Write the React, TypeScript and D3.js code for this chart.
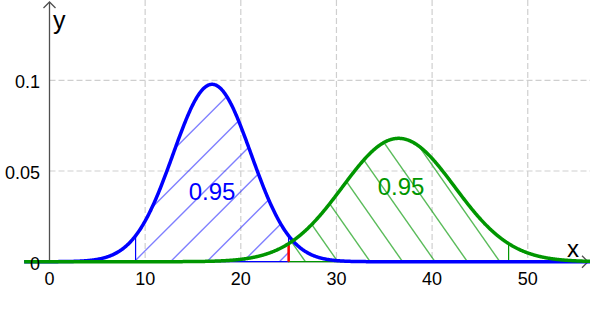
import React from "react";
import * as d3 from "d3";

// ---- data ----
const X_TICKS = [0, 10, 20, 30, 40, 50];
const Y_TICKS = [0.05, 0.1];
const Y_TICK_LABELS = ["0.05", "0.1"];
const DIST_NAMES = ["H0", "H1"];
const DIST_MEANS = [17, 36.5];
const DIST_SDS = [4.08, 5.867];
const AREA_FROM = [9, 25];
const AREA_TO = [25, 48];
const AREA_LABELS = ["0.95", "0.95"];
const AREA_LABEL_X = [17.0, 36.75];
const AREA_LABEL_Y = [0.034, 0.0367];
const CRITICAL_VALUE = 25;
const CURVE_DOMAIN = [-2.65, 57];

const W = 590;
const H = 310;
const COLORS = ["#0000ff", "#009600"];
const HATCH_COLORS = ["rgba(0,0,255,0.5)", "rgba(0,150,0,0.65)"];
const FONT = "'Liberation Sans', Arial, Helvetica, sans-serif";

const pdf = (m: number, s: number) => (x: number) =>
  Math.exp(-0.5 * ((x - m) / s) ** 2) / (s * Math.sqrt(2 * Math.PI));

export default function App() {
  const x0px = 49.5;
  const pxPerUnit = 9.565;
  const xs = d3
    .scaleLinear()
    .domain([(0 - x0px) / pxPerUnit, (W - x0px) / pxPerUnit])
    .range([0, W]);
  const ys = d3.scaleLinear().domain([0, 0.1]).range([261.7, 80.3]);
  const base = ys(0);

  const fns = DIST_MEANS.map((m, i) => pdf(m, DIST_SDS[i]));
  const samples = d3.range(CURVE_DOMAIN[0], CURVE_DOMAIN[1], 0.05);

  const curvePaths = fns.map((f) =>
    d3
      .line<number>()
      .x((d) => xs(d))
      .y((d) => ys(f(d)))(samples) as string
  );

  const areaPaths = fns.map((f, i) => {
    const a = AREA_FROM[i];
    const b = AREA_TO[i];
    const pts = d3.range(a, b, 0.05).concat([b]);
    return d3
      .area<number>()
      .x((d) => xs(d))
      .y0(base)
      .y1((d) => ys(f(d)))(pts) as string;
  });

  // hatch line families (pixel-space pattern)
  const hatch = (i: number) => {
    const lines: [number, number, number, number][] = [];
    const L = 300;
    if (i === 0) {
      const sp = 36.3;
      for (let k = -12; k <= 12; k++) {
        const c = 170.5 + k * sp;
        lines.push([c, base, c + L, base - L]);
      }
    } else {
      const sp = 32.4;
      const t = Math.tan((55 * Math.PI) / 180);
      for (let k = -12; k <= 12; k++) {
        const c = 435 + k * sp;
        lines.push([c, base, c - L / t, base - L]);
      }
    }
    return lines;
  };

  const gridColor = "#cfcfcf";
  const axisColor = "#505050";

  return (
    <svg
      width={W}
      height={H}
      style={{ position: "absolute", left: 0, top: 0, background: "#fff" }}
      fontFamily={FONT}
    >
      <defs>
        {areaPaths.map((p, i) => (
          <clipPath id={`clip${i}`} key={i}>
            <path d={p} />
          </clipPath>
        ))}
      </defs>
      <rect width={W} height={H} fill="#fff" />
      {X_TICKS.filter((t) => t !== 0).map((t) => (
        <line
          key={"gx" + t}
          x1={xs(t)}
          x2={xs(t)}
          y1={0}
          y2={base}
          stroke={gridColor}
          strokeWidth={1.2}
          strokeDasharray="6,3"
        />
      ))}
      {Y_TICKS.map((t) => (
        <line
          key={"gy" + t}
          x1={xs(0)}
          x2={W}
          y1={ys(t)}
          y2={ys(t)}
          stroke={gridColor}
          strokeWidth={1.2}
          strokeDasharray="6,3"
        />
      ))}
      <line x1={xs(0)} x2={xs(0)} y1={2} y2={base} stroke={axisColor} strokeWidth={1.3} />
      <path
        d={`M${xs(0) - 6},${8} L${xs(0)},${2} L${xs(0) + 6},${8}`}
        fill="none"
        stroke={axisColor}
        strokeWidth={1.3}
      />
      <line x1={xs(CURVE_DOMAIN[0])} x2={588} y1={base} y2={base} stroke={axisColor} strokeWidth={1.3} />
      <path
        d={`M${582},${base - 6} L${588},${base} L${582},${base + 6}`}
        fill="none"
        stroke={axisColor}
        strokeWidth={1.3}
      />
      {areaPaths.map((p, i) => (
        <g key={"area" + i}>
          <g clipPath={`url(#clip${i})`}>
            {hatch(i).map((l, j) => (
              <line
                key={j}
                x1={l[0]}
                y1={l[1]}
                x2={l[2]}
                y2={l[3]}
                stroke={HATCH_COLORS[i]}
                strokeWidth={1.4}
              />
            ))}
          </g>
          <path d={p} fill="none" stroke={COLORS[i]} strokeWidth={1.2} />
        </g>
      ))}
      <line
        x1={xs(CRITICAL_VALUE)}
        x2={xs(CRITICAL_VALUE)}
        y1={base}
        y2={ys(fns[1](CRITICAL_VALUE))}
        stroke="#ff0000"
        strokeWidth={2.5}
      />
      {curvePaths.map((p, i) => (
        <path
          key={DIST_NAMES[i]}
          d={p}
          fill="none"
          stroke={COLORS[i]}
          strokeWidth={3.5}
          strokeLinejoin="round"
        />
      ))}
      {AREA_LABELS.map((t, i) => (
        <text
          key={"al" + i}
          x={xs(AREA_LABEL_X[i])}
          y={ys(AREA_LABEL_Y[i])}
          fill={COLORS[i]}
          fontSize={24}
          textAnchor="middle"
        >
          {t}
        </text>
      ))}
      {X_TICKS.map((t) => (
        <text key={"tx" + t} x={xs(t)} y={285} fontSize={18} textAnchor="middle" fill="#000">
          {String(t)}
        </text>
      ))}
      {Y_TICKS.map((t, i) => (
        <text key={"ty" + t} x={40} y={ys(t) + 8} fontSize={18} textAnchor="end" fill="#000">
          {Y_TICK_LABELS[i]}
        </text>
      ))}
      <text x={40} y={base + 8} fontSize={18} textAnchor="end" fill="#000">
        0
      </text>
      <text x={53} y={29} fontSize={25} fill="#000">
        y
      </text>
      <text x={567} y={257} fontSize={24} fill="#000">
        x
      </text>
    </svg>
  );
}
